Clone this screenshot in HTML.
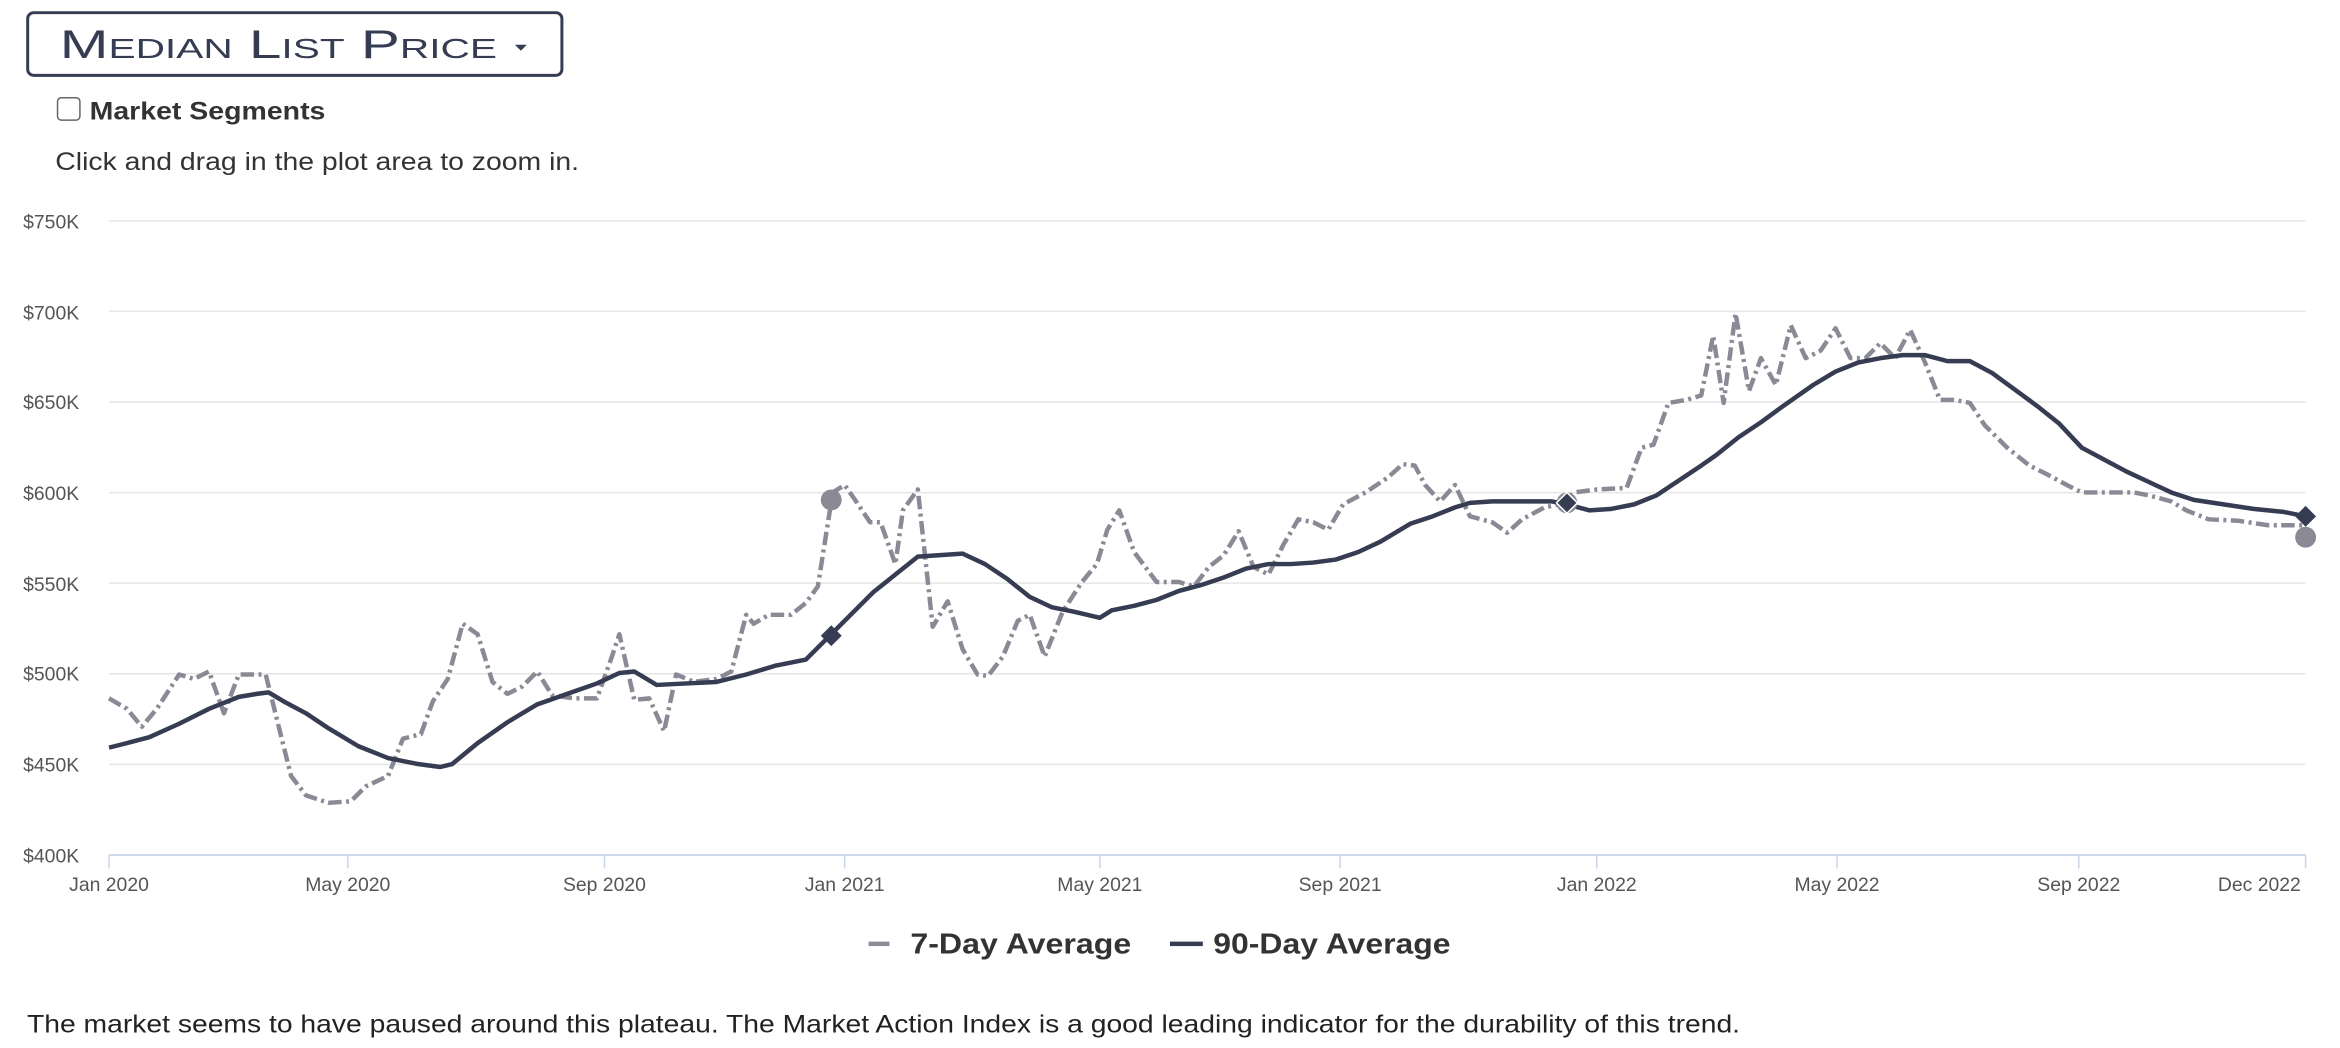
<!DOCTYPE html>
<html><head><meta charset="utf-8"><style>
html,body{margin:0;padding:0;background:#fff;width:2340px;height:1048px;overflow:hidden}
svg{display:block}
text{font-family:"Liberation Sans",Arial,sans-serif}
</style></head><body>
<svg width="2340" height="1048" viewBox="0 0 1568 702.3" xmlns="http://www.w3.org/2000/svg">
<rect x="18.5" y="8.5" width="358" height="42" rx="4" fill="#fff" stroke="#363c52" stroke-width="2"/>
<text x="40" y="39" font-size="27" fill="#363c52" font-variant="small-caps" textLength="293" lengthAdjust="spacingAndGlyphs">Median List Price</text>
<path d="M345 30 l8 0 l-4 4z" fill="#363c52"/>
<rect x="38.5" y="65.5" width="15" height="15" rx="2.5" fill="#fff" stroke="#666" stroke-width="1"/>
<text x="60" y="80" font-size="17" font-weight="bold" fill="#333" textLength="158" lengthAdjust="spacingAndGlyphs">Market Segments</text>
<text x="37" y="114" font-size="17" fill="#333" textLength="351" lengthAdjust="spacingAndGlyphs">Click and drag in the plot area to zoom in.</text>
<g stroke="#e6e6e6" stroke-width="1">
<line x1="73" x2="1545" y1="148" y2="148"/><line x1="73" x2="1545" y1="208.7" y2="208.7"/>
<line x1="73" x2="1545" y1="269.4" y2="269.4"/><line x1="73" x2="1545" y1="330.1" y2="330.1"/>
<line x1="73" x2="1545" y1="390.8" y2="390.8"/><line x1="73" x2="1545" y1="451.5" y2="451.5"/>
<line x1="73" x2="1545" y1="512.2" y2="512.2"/>
</g>
<line x1="73" x2="1545" y1="573" y2="573" stroke="#ccd6eb" stroke-width="1.3"/>
<g stroke="#ccd6eb" stroke-width="1"><line x1="73" x2="73" y1="573" y2="582"/><line x1="233" x2="233" y1="573" y2="582"/><line x1="405" x2="405" y1="573" y2="582"/><line x1="566" x2="566" y1="573" y2="582"/><line x1="737" x2="737" y1="573" y2="582"/><line x1="898" x2="898" y1="573" y2="582"/><line x1="1070" x2="1070" y1="573" y2="582"/><line x1="1231" x2="1231" y1="573" y2="582"/><line x1="1393" x2="1393" y1="573" y2="582"/><line x1="1545" x2="1545" y1="573" y2="582"/></g>
<g font-size="13" fill="#555" text-anchor="end">
<text x="53" y="153">$750K</text><text x="53" y="214">$700K</text><text x="53" y="274">$650K</text><text x="53" y="335">$600K</text><text x="53" y="396">$550K</text><text x="53" y="456">$500K</text><text x="53" y="517">$450K</text><text x="53" y="578">$400K</text>
</g>
<g font-size="13" fill="#555" text-anchor="middle">
<text x="73" y="597">Jan 2020</text><text x="233" y="597">May 2020</text><text x="405" y="597">Sep 2020</text><text x="566" y="597">Jan 2021</text><text x="737" y="597">May 2021</text><text x="898" y="597">Sep 2021</text><text x="1070" y="597">Jan 2022</text><text x="1231" y="597">May 2022</text><text x="1393" y="597">Sep 2022</text><text x="1514" y="597">Dec 2022</text>
</g>
<polyline fill="none" stroke="#8a8a96" stroke-width="3" stroke-dasharray="9,3,2,3" stroke-linejoin="round" points="73,468 85,475 95,487 105,475 120,452 130,455 140,450 150,478 160,452 170,452 178,452 185,480 195,520 205,533 220,538 235,537 245,527 260,520 270,495 282,492 290,470 300,455 310,418 320,425 330,457 340,465 350,460 360,450 370,466 385,468 400,468 410,440 415,425 425,469 435,468 445,490 453,452 465,457 480,455 490,450 500,412 505,418 515,412 530,412 540,404 548,393 558,330 566,325 575,338 583,350 590,350 600,378 605,342 615,328 625,420 635,403 645,435 655,452 662,453 672,440 682,416 690,412 700,440 712,410 725,390 735,378 742,355 750,342 760,370 775,390 790,390 800,393 810,380 820,372 830,356 840,380 850,385 860,365 870,348 880,350 890,355 900,338 915,330 930,320 940,311 948,312 955,325 965,336 975,325 985,346 1000,350 1010,357 1020,348 1035,340 1045,338 1055,330 1070,328 1090,327 1100,300 1108,298 1118,270 1130,268 1140,265 1148,225 1155,270 1163,210 1172,262 1180,240 1190,258 1200,218 1210,240 1220,235 1230,220 1240,240 1250,240 1260,230 1270,240 1280,221 1290,243 1300,268 1310,268 1320,270 1330,285 1345,300 1360,312 1372,318 1385,325 1395,330 1410,330 1430,330 1440,332 1455,336 1465,342 1480,348 1500,349 1520,352 1545,352"/>
<polyline fill="none" stroke="#363c52" stroke-width="3" stroke-linejoin="round" points="73,501 85,498 100,494 120,485 140,475 160,467 172,465 180,464 190,470 205,478 220,488 240,500 260,508 280,512 295,514 303,512 320,498 340,484 360,472 380,465 400,458 415,451 425,450 440,459 460,458 480,457 500,452 520,446 540,442 556,426 570,412 585,397 600,385 615,373 630,372 645,371 660,378 675,388 690,400 705,407 720,410 737,414 745,409 760,406 775,402 790,396 805,392 820,387 835,381 850,378 865,378 880,377 895,375 910,370 925,363 945,351 960,346 975,340 985,337 1000,336 1020,336 1040,336 1050,338 1065,342 1080,341 1095,338 1110,332 1125,322 1140,312 1150,305 1165,293 1180,283 1195,272 1215,258 1230,249 1245,243 1260,240 1275,238 1290,238 1305,242 1320,242 1335,250 1350,261 1365,272 1380,284 1395,300 1410,308 1425,316 1440,323 1455,330 1470,335 1490,338 1510,341 1530,343 1545,346"/>
<circle cx="557" cy="335" r="7" fill="#8a8a96"/>
<path d="M557 419 l7 7 l-7 7 l-7 -7z" fill="#363c52"/>
<circle cx="1050" cy="337" r="7" fill="#8a8a96"/>
<path d="M1050 330 l7 7 l-7 7 l-7 -7z" fill="#363c52" stroke="#fff" stroke-width="1"/>
<circle cx="1545" cy="360" r="7" fill="#8a8a96"/>
<path d="M1545 339 l7 7 l-7 7 l-7 -7z" fill="#363c52"/>
<rect x="582" y="631" width="14" height="3" fill="#8a8a96"/>
<text x="610" y="639" font-size="19" font-weight="bold" fill="#333" textLength="148" lengthAdjust="spacingAndGlyphs">7-Day Average</text>
<rect x="784" y="631" width="22" height="3" fill="#363c52"/>
<text x="813" y="639" font-size="19" font-weight="bold" fill="#333" textLength="159" lengthAdjust="spacingAndGlyphs">90-Day Average</text>
<text x="18" y="692" font-size="17" fill="#222" textLength="1148" lengthAdjust="spacingAndGlyphs">The market seems to have paused around this plateau. The Market Action Index is a good leading indicator for the durability of this trend.</text>
</svg>
</body></html>
